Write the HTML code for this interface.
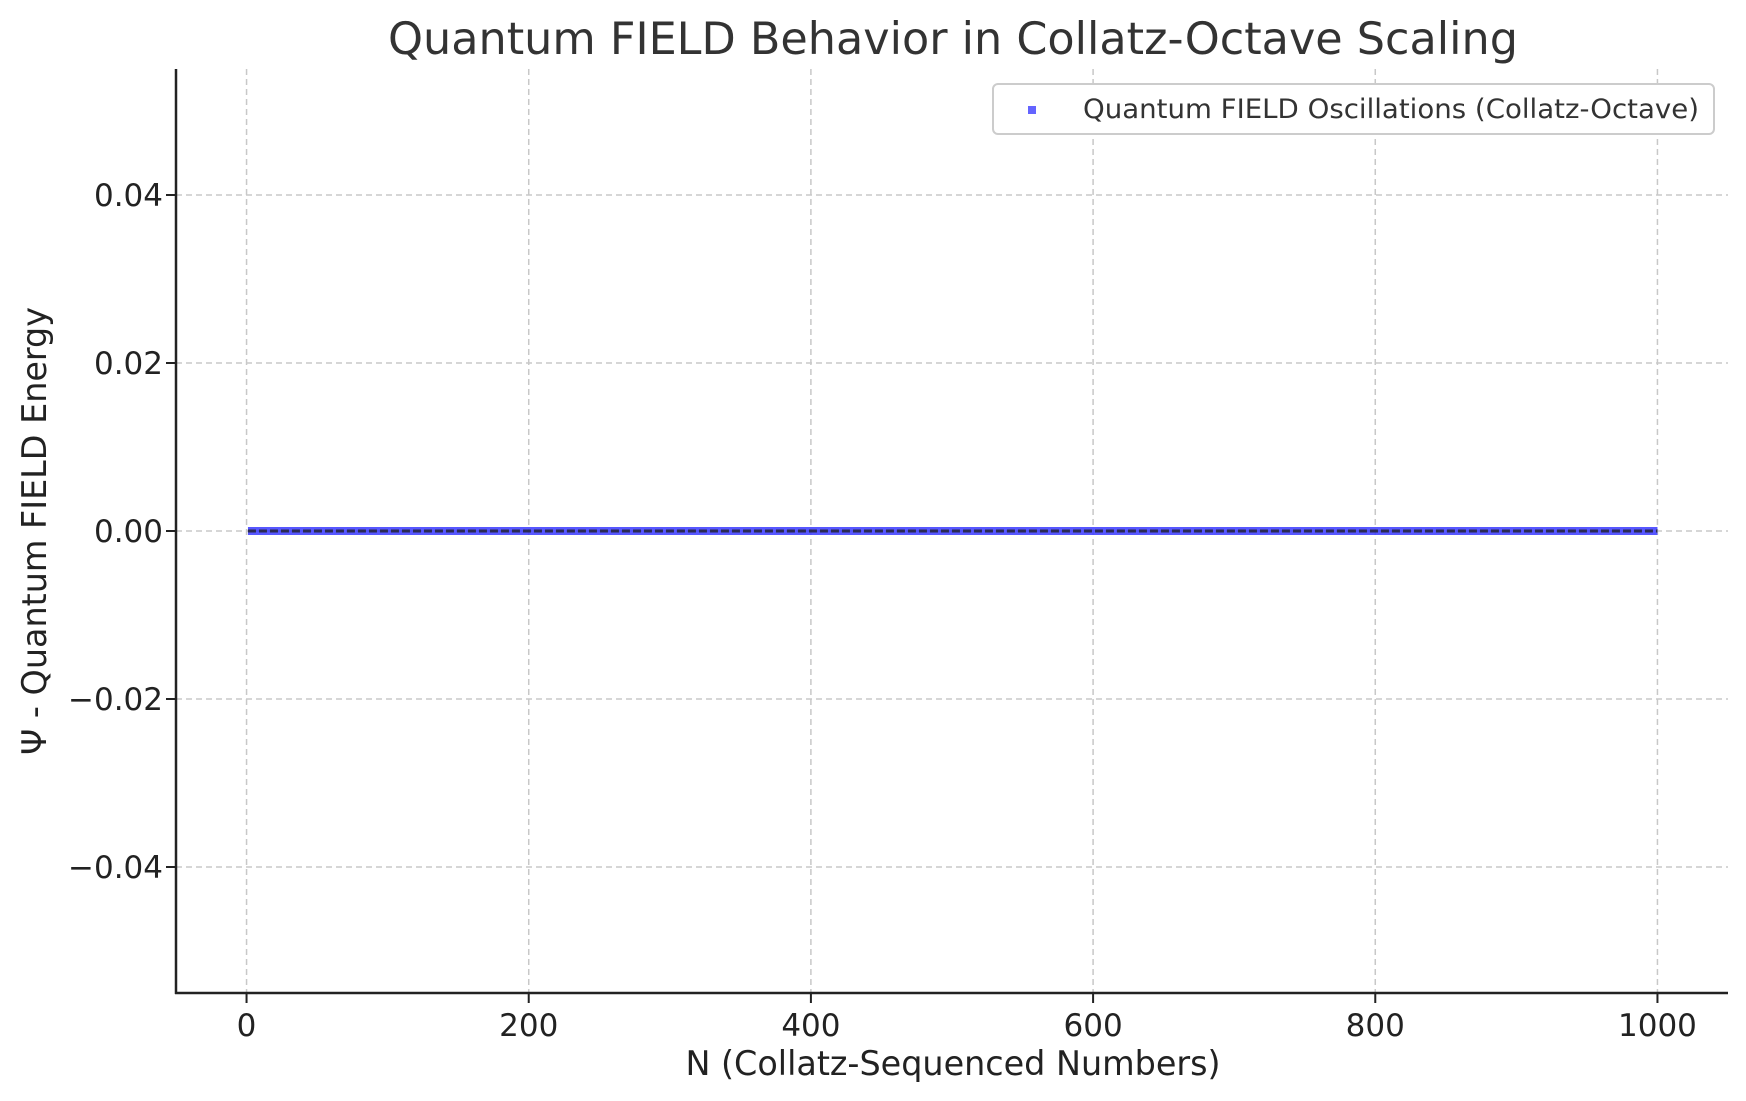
<!DOCTYPE html>
<html><head><meta charset="utf-8"><style>
html,body{margin:0;padding:0;background:#fff;}
svg{display:block;font-family:"DejaVu Sans","Liberation Sans",sans-serif;}
</style></head><body>
<svg id="chart" width="1746" height="1101" viewBox="0 0 1746 1101" xmlns="http://www.w3.org/2000/svg">
<rect width="1746" height="1101" fill="#fff"/>
<g id="grid"></g>
<g id="series"></g>
<g id="axes"></g>
<text x="953" y="54" font-size="44.5" fill="#333" text-anchor="middle">Quantum FIELD Behavior in Collatz-Octave Scaling</text>
<text x="953" y="1075" font-size="33.4" fill="#222" text-anchor="middle">N (Collatz-Sequenced Numbers)</text>
<text transform="translate(46,531) rotate(-90)" font-size="33.4" fill="#222" text-anchor="middle">Ψ - Quantum FIELD Energy</text>
<g>
<rect x="993" y="84" width="721" height="50" rx="5" fill="#fff" stroke="#ccc" stroke-width="2"/>
<rect x="1028" y="106" width="8" height="8" fill="#6464ff"/>
<text x="1083" y="118" font-size="27" fill="#333" textLength="616" lengthAdjust="spacingAndGlyphs">Quantum FIELD Oscillations (Collatz-Octave)</text>
</g>
</svg>
<script>
const xTicks = [0, 200, 400, 600, 800, 1000];
const yTicks = [0.04, 0.02, 0.00, -0.02, -0.04];
const yTickLabels = ["0.04", "0.02", "0.00", "\u22120.02", "\u22120.04"];
const nValues = Array.from({length: 1000}, (_, i) => i + 1);
const psiValues = new Array(1000).fill(0);

const NS = "http://www.w3.org/2000/svg";
const X0 = 176, X1 = 1728, Y0 = 69, Y1 = 993;
const xMin = -50, xMax = 1050, yMin = -0.055, yMax = 0.055;
const sx = v => X0 + (v - xMin) / (xMax - xMin) * (X1 - X0);
const sy = v => Y1 - (v - yMin) / (yMax - yMin) * (Y1 - Y0);
function mk(tag, attrs, parent) {
  const e = document.createElementNS(NS, tag);
  for (const k in attrs) e.setAttribute(k, attrs[k]);
  parent.appendChild(e);
  return e;
}
const grid = document.getElementById('grid');
const axes = document.getElementById('axes');
const series = document.getElementById('series');

xTicks.forEach(t => {
  const x = sx(t);
  const g = mk('line', {x1: x, x2: x, y1: Y0, y2: Y1, stroke: '#c8c8c8', 'stroke-width': 1.5, 'stroke-dasharray': '6,4'}, grid);
  
  
  const tk = mk('line', {x1: x, x2: x, y1: Y1, y2: Y1 + 10, stroke: '#222', 'stroke-width': 2}, axes);
  
  
  const lb = mk('text', {x: x, y: Y1 + 43, 'font-size': 31, fill: '#222', 'text-anchor': 'middle'}, axes);
  lb.textContent = String(t);
  
  
});
yTicks.forEach((t, i) => {
  const y = sy(t);
  const g = mk('line', {x1: X0, x2: X1, y1: y, y2: y, stroke: '#c8c8c8', 'stroke-width': 1.5, 'stroke-dasharray': '6,4'}, grid);
  
  
  const tk = mk('line', {x1: X0 - 10, x2: X0, y1: y, y2: y, stroke: '#222', 'stroke-width': 2}, axes);
  
  
  const lb = mk('text', {x: X0 - 13, y: y + 11, 'font-size': 31, fill: '#222', 'text-anchor': 'end'}, axes);
  lb.textContent = yTickLabels[i];
  
  
});
const sl = mk('line', {x1: X0, x2: X0, y1: Y0, y2: Y1 + 1, stroke: '#222', 'stroke-width': 2.5}, axes);


const sb = mk('line', {x1: X0 - 1, x2: X1, y1: Y1, y2: Y1, stroke: '#222', 'stroke-width': 2.5}, axes);



const pts = nValues.map((n, i) => sx(n) + ',' + sy(psiValues[i])).join(' ');
const band = mk('polyline', {points: pts, fill: 'none', stroke: '#3a3aff', 'stroke-width': 8, 'stroke-opacity': 0.85}, series);


const dl = mk('polyline', {points: pts, fill: 'none', stroke: '#2a2a55', 'stroke-width': 3, 'stroke-dasharray': '8,3'}, series);


</script>
</body></html>
